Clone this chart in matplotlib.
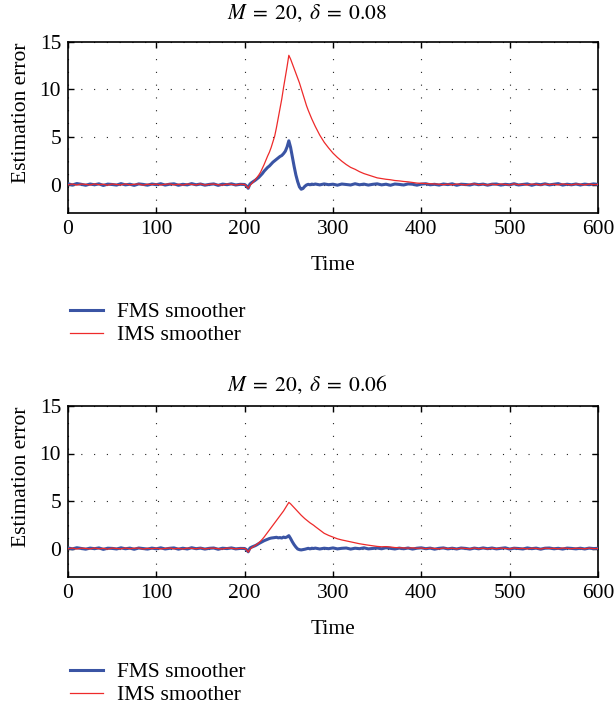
import matplotlib
matplotlib.use("Agg")
import matplotlib.pyplot as plt

plt.rcParams["font.family"] = ["Liberation Serif", "DejaVu Serif"]
plt.rcParams["mathtext.fontset"] = "stix"

# Sample times (same grid for every series)
time = [
    0, 5, 10, 15, 20, 25, 30, 35, 40, 45, 50, 55, 60, 65, 70, 75, 80, 85, 90, 95,
    100, 105, 110, 115, 120, 125, 130, 135, 140, 145, 150, 155, 160, 165, 170, 175, 180, 185, 190, 195,
    200, 202, 204, 206, 208, 210, 212, 214, 216, 218, 220, 222, 224, 226, 228, 230, 232, 234, 236, 238,
    240, 242, 244, 246, 248, 250, 252, 254, 256, 258, 260, 262, 264, 266, 268, 270, 272, 274, 276, 278,
    280, 285, 290, 295, 300, 305, 310, 315, 320, 325, 330, 335, 340, 345, 350, 355, 360, 365, 370, 375,
    380, 385, 390, 395, 400, 405, 410, 415, 420, 425, 430, 435, 440, 445, 450, 455, 460, 465, 470, 475,
    480, 485, 490, 495, 500, 505, 510, 515, 520, 525, 530, 535, 540, 545, 550, 555, 560, 565, 570, 575,
    580, 585, 590, 595, 600,
]

# delta = 0.08
fms_008 = [
    0.08, -0.05, 0.10, 0.02, -0.08, 0.05, -0.03, 0.07, -0.10, 0.04, 0.00, -0.06, 0.09, -0.04, 0.03, -0.09, 0.06, 0.01, -0.07, 0.05,
    -0.02, 0.08, -0.06, 0.03, 0.07, -0.08, 0.02, -0.04, 0.09, -0.03, 0.05, -0.07, 0.01, 0.06, -0.09, 0.04, -0.02, 0.07, -0.05, 0.02,
    0.00, -0.15, -0.40, 0.05, 0.20, 0.32, 0.45, 0.60, 0.75, 0.95, 1.15, 1.40, 1.60, 1.80, 1.95, 2.15, 2.35, 2.50, 2.65, 2.80,
    2.95, 3.05, 3.25, 3.50, 3.95, 4.60, 3.90, 2.90, 1.90, 1.00, 0.30, -0.25, -0.50, -0.42, -0.20, -0.05, 0.02, -0.03, 0.04, 0.00,
    0.05, -0.04, 0.06, -0.02, 0.03, -0.07, 0.05, 0.00, -0.05, 0.08, -0.03, 0.04, -0.06, 0.02, 0.07, -0.04, 0.03, -0.08, 0.05, 0.01,
    -0.05, 0.06, 0.03, -0.07, 0.04, 0.08, -0.03, 0.02, -0.06, 0.05, -0.01, 0.07, -0.08, 0.03, 0.00, -0.05, 0.06, -0.02, 0.04, -0.07,
    0.03, 0.05, -0.06, 0.02, -0.03, 0.08, -0.05, 0.01, 0.06, -0.08, 0.04, -0.02, 0.07, -0.04, 0.02, 0.09, -0.06, 0.03, -0.03, 0.05,
    -0.05, 0.04, -0.02, 0.06, 0.00,
]
ims_008 = [
    -0.03, 0.05, -0.06, 0.04, 0.02, -0.05, 0.06, -0.02, 0.03, -0.07, 0.05, 0.01, -0.04, 0.06, -0.03, 0.02, 0.05, -0.06, 0.03, -0.01,
    0.04, -0.05, 0.02, 0.06, -0.04, 0.03, -0.06, 0.05, 0.00, -0.03, 0.06, -0.05, 0.02, 0.04, -0.02, -0.06, 0.05, 0.01, -0.04, 0.03,
    0.00, -0.15, -0.40, -0.10, 0.10, 0.30, 0.50, 0.75, 1.00, 1.30, 1.70, 2.10, 2.55, 3.00, 3.40, 3.90, 4.50, 5.10, 6.00, 7.00,
    8.00, 9.00, 10.20, 11.30, 12.40, 13.60, 13.20, 12.70, 12.20, 11.70, 11.20, 10.70, 10.10, 9.50, 8.90, 8.30, 7.80, 7.35, 6.90, 6.50,
    6.10, 5.20, 4.45, 3.85, 3.30, 2.85, 2.45, 2.10, 1.80, 1.60, 1.35, 1.15, 1.00, 0.85, 0.70, 0.62, 0.55, 0.50, 0.42, 0.38,
    0.32, 0.28, 0.22, 0.15, 0.12, 0.10, 0.08, 0.05, 0.03, -0.02, 0.04, -0.03, 0.05, 0.00, -0.04, 0.03, 0.06, -0.02, 0.02, -0.05,
    0.04, -0.03, 0.05, 0.01, -0.04, 0.06, -0.02, 0.03, -0.05, 0.04, 0.02, -0.06, 0.05, -0.01, 0.03, -0.04, 0.06, 0.00, -0.03, 0.04,
    0.02, -0.04, 0.05, -0.02, 0.01,
]

# delta = 0.06
fms_006 = [
    0.06, -0.04, 0.08, 0.00, -0.07, 0.04, -0.02, 0.06, -0.09, 0.03, 0.01, -0.05, 0.07, -0.03, 0.04, -0.08, 0.05, 0.00, -0.06, 0.04,
    -0.03, 0.07, -0.05, 0.02, 0.06, -0.07, 0.03, -0.05, 0.08, -0.02, 0.04, -0.06, 0.02, 0.05, -0.08, 0.03, -0.01, 0.06, -0.04, 0.01,
    0.00, -0.12, -0.35, 0.05, 0.15, 0.22, 0.30, 0.40, 0.52, 0.62, 0.72, 0.82, 0.90, 0.98, 1.05, 1.10, 1.12, 1.15, 1.18, 1.12,
    1.15, 1.10, 1.20, 1.14, 1.22, 1.35, 1.05, 0.70, 0.40, 0.15, -0.05, -0.12, -0.15, -0.12, -0.08, -0.03, 0.02, -0.04, 0.03, 0.00,
    0.04, -0.05, 0.03, -0.02, 0.06, -0.04, 0.02, 0.05, -0.06, 0.03, -0.02, 0.07, -0.04, 0.01, 0.05, -0.03, 0.08, 0.02, -0.05, 0.04,
    -0.03, 0.05, -0.06, 0.03, 0.07, -0.02, 0.04, -0.07, 0.02, 0.06, -0.04, 0.03, -0.05, 0.05, 0.01, -0.06, 0.04, -0.03, 0.06, -0.02,
    0.05, -0.04, 0.02, 0.07, -0.06, 0.03, 0.00, -0.05, 0.06, -0.02, 0.04, -0.07, 0.03, 0.05, -0.03, 0.02, -0.06, 0.04, 0.01, -0.04,
    0.03, -0.05, 0.04, -0.01, 0.02,
]
ims_006 = [
    -0.02, 0.04, -0.05, 0.03, 0.01, -0.04, 0.05, -0.03, 0.02, -0.06, 0.04, 0.00, -0.03, 0.05, -0.02, 0.03, 0.04, -0.05, 0.02, -0.02,
    0.03, -0.04, 0.01, 0.05, -0.03, 0.02, -0.05, 0.04, 0.01, -0.02, 0.05, -0.04, 0.03, 0.03, -0.01, -0.05, 0.04, 0.02, -0.03, 0.02,
    0.00, -0.12, -0.38, -0.10, 0.08, 0.20, 0.32, 0.45, 0.60, 0.78, 0.98, 1.20, 1.45, 1.70, 1.95, 2.20, 2.45, 2.70, 2.95, 3.20,
    3.45, 3.70, 3.95, 4.25, 4.55, 4.85, 4.70, 4.50, 4.30, 4.10, 3.90, 3.70, 3.50, 3.32, 3.15, 3.00, 2.85, 2.70, 2.58, 2.45,
    2.30, 1.95, 1.60, 1.38, 1.20, 1.02, 0.90, 0.80, 0.70, 0.60, 0.50, 0.42, 0.35, 0.28, 0.22, 0.18, 0.20, 0.16, 0.10, 0.08,
    0.06, 0.04, 0.07, 0.02, 0.05, -0.02, 0.04, 0.01, -0.03, 0.05, -0.01, 0.03, -0.04, 0.04, 0.00, -0.03, 0.05, -0.02, 0.03, -0.04,
    0.03, -0.02, 0.04, 0.00, -0.03, 0.05, -0.01, 0.02, -0.04, 0.03, 0.01, -0.05, 0.04, 0.00, 0.02, -0.03, 0.05, 0.01, -0.02, 0.03,
    0.01, -0.03, 0.04, -0.01, 0.00,
]

titles = [r"$M\;=\;20,\;\delta\;=\;0.08$", r"$M\;=\;20,\;\delta\;=\;0.06$"]
panels = [(fms_008, ims_008), (fms_006, ims_006)]
labels = ["FMS smoother", "IMS smoother"]

BLUE = "#3a54a4"
RED = "#ee2a2a"
FS = 15.5


def draw_panel(fig, rect, fms, ims, title, title_y, legend_y):
    ax = fig.add_axes(rect)
    ax.plot(time, fms, color=BLUE, linewidth=2.2, label=labels[0], zorder=3)
    ax.plot(time, ims, color=RED, linewidth=0.9, label=labels[1], zorder=4)

    ax.set_xlim(0, 600)
    ax.set_ylim(-3, 15)
    ax.set_xticks([0, 100, 200, 300, 400, 500, 600])
    ax.set_yticks([0, 5, 10, 15])

    ax.grid(True, color="#222222", linestyle=(0, (1, 10.5)), linewidth=0.8)
    ax.tick_params(direction="in", top=True, right=True, length=4,
                   width=1.0, labelsize=FS, pad=5)
    for s in ax.spines.values():
        s.set_linewidth(1.2)

    # title is centred on the figure, not on the axes
    fig.text(0.5, title_y, title, fontsize=FS, ha="center", va="center")
    ax.set_xlabel("Time", fontsize=FS, labelpad=12)
    ax.set_ylabel("Estimation error", fontsize=FS)
    ax.yaxis.set_label_coords(-0.070, 0.585)

    fig.legend(
        loc="upper left",
        bbox_to_anchor=(70 / 614, legend_y),
        frameon=False,
        fontsize=FS,
        handlelength=1.55,
        handletextpad=0.65,
        labelspacing=0.15,
        borderpad=0,
        borderaxespad=0,
        handles=ax.get_lines(),
    )
    return ax


fig = plt.figure(figsize=(6.14, 7.10), dpi=100)

left = 68 / 614
width = 530 / 614
height = 171 / 710

draw_panel(fig, [left, 1 - 213 / 710, width, height], *panels[0], titles[0],
           1 - 13 / 710, 1 - 302 / 710)
draw_panel(fig, [left, 1 - 577 / 710, width, height], *panels[1], titles[1],
           1 - 385 / 710, 1 - 662 / 710)

fig.savefig("out.png", dpi=100)
